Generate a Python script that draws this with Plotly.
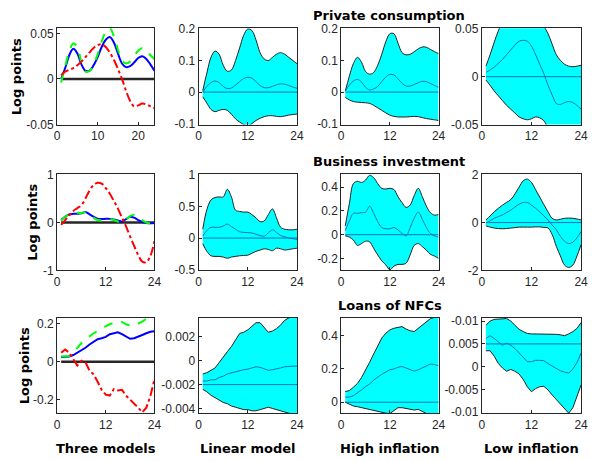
import plotly.graph_objects as go

# ---------------- data ----------------
H = list(range(1, 25))

col_titles = ["Three models", "Linear model", "High inflation", "Low inflation"]
row_titles = ["Private consumption", "Business investment", "Loans of NFCs"]
ylabel = "Log points"

# Row 1: Private consumption
pc_three_linear = [0.0, 0.012, 0.026, 0.033, 0.028, 0.016, 0.009, 0.009, 0.015, 0.024, 0.035, 0.043,
                   0.046, 0.040, 0.028, 0.017, 0.013, 0.014, 0.018, 0.023, 0.025, 0.022, 0.016, 0.009]
pc_three_high = [-0.004, 0.014, 0.030, 0.039, 0.035, 0.018, 0.008, 0.009, 0.016, 0.027, 0.041, 0.052,
                 0.056, 0.047, 0.032, 0.020, 0.017, 0.019, 0.025, 0.031, 0.034, 0.031, 0.026, 0.022]
pc_three_low = [0.004, 0.008, 0.010, 0.012, 0.015, 0.019, 0.024, 0.029, 0.034, 0.037, 0.038, 0.035,
                0.029, 0.021, 0.011, 0.000, -0.013, -0.024, -0.030, -0.029, -0.027, -0.028, -0.030, -0.032]

pc_lin_up = [0.005, 0.06, 0.11, 0.13, 0.12, 0.085, 0.066, 0.07, 0.1, 0.14, 0.18, 0.2,
             0.195, 0.165, 0.125, 0.105, 0.1, 0.11, 0.12, 0.125, 0.12, 0.11, 0.1, 0.09]
pc_lin_lo = [-0.015, -0.035, -0.055, -0.062, -0.058, -0.055, -0.058, -0.07, -0.085, -0.095, -0.103, -0.107,
             -0.1, -0.09, -0.083, -0.078, -0.075, -0.075, -0.077, -0.078, -0.076, -0.073, -0.071, -0.07]
pc_lin_med = [0.0, 0.018, 0.03, 0.035, 0.03, 0.018, 0.011, 0.013, 0.022, 0.033, 0.043, 0.047,
              0.044, 0.033, 0.021, 0.014, 0.014, 0.018, 0.023, 0.026, 0.025, 0.021, 0.016, 0.012]

pc_high_up = [0.003, 0.05, 0.09, 0.11, 0.095, 0.065, 0.057, 0.062, 0.085, 0.12, 0.16, 0.185,
              0.185, 0.155, 0.125, 0.118, 0.12, 0.128, 0.137, 0.143, 0.142, 0.135, 0.128, 0.122]
pc_high_lo = [-0.017, -0.025, -0.03, -0.032, -0.033, -0.034, -0.036, -0.042, -0.05, -0.058, -0.066, -0.073,
              -0.077, -0.079, -0.079, -0.079, -0.078, -0.077, -0.078, -0.081, -0.084, -0.086, -0.088, -0.09]
pc_high_med = [0.003, 0.022, 0.035, 0.04, 0.032, 0.015, 0.007, 0.01, 0.018, 0.033, 0.048, 0.056,
               0.054, 0.042, 0.028, 0.019, 0.019, 0.024, 0.03, 0.034, 0.033, 0.027, 0.021, 0.015]

pc_low_up = [0.011, 0.023, 0.036, 0.048, 0.058, 0.068, 0.076, 0.082, 0.085, 0.086, 0.084, 0.079,
             0.072, 0.063, 0.053, 0.045, 0.034, 0.023, 0.017, 0.013, 0.011, 0.0105, 0.011, 0.012]
pc_low_lo = [-0.0035, -0.009, -0.015, -0.02, -0.025, -0.03, -0.034, -0.038, -0.042, -0.044, -0.045, -0.044,
             -0.042, -0.043, -0.046, -0.054, -0.062, -0.068, -0.07, -0.07, -0.07, -0.072, -0.074, -0.075]
pc_low_med = [0.0045, 0.007, 0.01, 0.014, 0.018, 0.023, 0.028, 0.033, 0.037, 0.038, 0.037, 0.032,
              0.023, 0.013, 0.003, -0.009, -0.019, -0.028, -0.029, -0.027, -0.026, -0.027, -0.03, -0.034]

# Row 2: Business investment
bi_three_linear = [0.05, 0.12, 0.17, 0.18, 0.18, 0.19, 0.22, 0.17, 0.12, 0.08, 0.07, 0.075,
                   0.075, 0.06, 0.04, 0.02, 0.07, 0.12, 0.1, 0.05, 0.01, -0.01, -0.015, -0.01]
bi_three_high = [0.04, 0.12, 0.17, 0.19, 0.2, 0.2, 0.21, 0.16, 0.1, 0.05, 0.04, 0.05,
                 0.07, 0.05, 0.02, 0.0, 0.06, 0.13, 0.16, 0.12, 0.05, 0.0, -0.02, -0.02]
bi_three_low = [-0.05, 0.05, 0.15, 0.24, 0.3, 0.36, 0.5, 0.67, 0.78, 0.83, 0.81, 0.72,
                0.6, 0.45, 0.29, 0.1, -0.08, -0.29, -0.49, -0.68, -0.82, -0.83, -0.7, -0.39]

bi_lin_up = [0.14, 0.45, 0.6, 0.64, 0.65, 0.65, 0.77, 0.65, 0.44, 0.42, 0.41, 0.41,
             0.37, 0.32, 0.26, 0.27, 0.37, 0.46, 0.32, 0.17, 0.14, 0.13, 0.13, 0.14]
bi_lin_lo = [-0.09, -0.21, -0.28, -0.29, -0.29, -0.3, -0.32, -0.3, -0.29, -0.28, -0.275, -0.27,
             -0.24, -0.21, -0.19, -0.17, -0.18, -0.2, -0.16, -0.17, -0.19, -0.18, -0.17, -0.16]
bi_lin_med = [0.03, 0.12, 0.17, 0.17, 0.17, 0.19, 0.22, 0.18, 0.14, 0.1, 0.09, 0.085,
              0.08, 0.06, 0.04, 0.03, 0.08, 0.13, 0.09, 0.04, 0.02, 0.0, -0.01, -0.02]

bi_high_up = [0.075, 0.26, 0.43, 0.45, 0.44, 0.46, 0.5, 0.48, 0.43, 0.39, 0.385, 0.39,
              0.38, 0.32, 0.27, 0.23, 0.25, 0.33, 0.39, 0.32, 0.24, 0.185, 0.165, 0.17]
bi_high_lo = [-0.01, -0.02, -0.045, -0.09, -0.075, -0.055, -0.06, -0.115, -0.17, -0.22, -0.255, -0.295,
              -0.265, -0.25, -0.25, -0.24, -0.17, -0.09, -0.075, -0.1, -0.13, -0.165, -0.18, -0.2]
bi_high_med = [0.035, 0.115, 0.18, 0.18, 0.185, 0.19, 0.24, 0.18, 0.11, 0.06, 0.05, 0.05,
               0.06, 0.04, 0.01, -0.01, 0.06, 0.14, 0.19, 0.13, 0.06, 0.01, -0.01, -0.02]

bi_low_up = [0.11, 0.28, 0.45, 0.6, 0.73, 0.85, 0.96, 1.2, 1.48, 1.75, 1.82, 1.68,
             1.38, 1.07, 0.75, 0.45, 0.18, 0.11, 0.14, 0.18, 0.19, 0.18, 0.15, 0.11]
bi_low_lo = [-0.14, -0.19, -0.23, -0.25, -0.26, -0.25, -0.23, -0.21, -0.19, -0.19, -0.19, -0.19,
             -0.18, -0.18, -0.2, -0.23, -0.5, -0.99, -1.4, -1.78, -1.88, -1.78, -1.4, -0.92]
bi_low_med = [-0.02, 0.08, 0.18, 0.25, 0.32, 0.42, 0.52, 0.65, 0.77, 0.84, 0.84, 0.73,
              0.6, 0.45, 0.28, 0.11, -0.1, -0.3, -0.58, -0.78, -0.88, -0.82, -0.64, -0.37]

# Row 3: Loans of NFCs
ln_three_linear = [0.025, 0.025, 0.027, 0.035, 0.047, 0.06, 0.073, 0.09, 0.106, 0.118, 0.123, 0.13,
                   0.144, 0.15, 0.154, 0.144, 0.132, 0.12, 0.123, 0.13, 0.14, 0.149, 0.157, 0.16]
ln_three_high = [0.027, 0.027, 0.03, 0.047, 0.073, 0.098, 0.115, 0.132, 0.149, 0.16, 0.174, 0.186,
                 0.196, 0.204, 0.21, 0.208, 0.196, 0.19, 0.19, 0.2, 0.21, 0.225, 0.228, 0.225]
ln_three_low = [0.047, 0.064, 0.047, 0.014, -0.02, 0.005, -0.003, -0.046, -0.066, -0.105, -0.147, -0.172,
                -0.177, -0.143, -0.15, -0.147, -0.177, -0.198, -0.218, -0.24, -0.265, -0.24, -0.18, -0.093]

ln_lin_up = [-0.0011, -0.001, -0.0008, -0.0006, -0.00015, 0.00035, 0.00077, 0.0012, 0.0017, 0.0023, 0.0024, 0.0026,
             0.0029, 0.0032, 0.0032, 0.0028, 0.0024, 0.0025, 0.0027, 0.003, 0.0034, 0.0036, 0.0037, 0.0037]
ln_lin_lo = [-0.0024, -0.0026, -0.0029, -0.0031, -0.0033, -0.0035, -0.0036, -0.0038, -0.0039, -0.004, -0.0041, -0.0041,
             -0.0042, -0.0042, -0.0041, -0.004, -0.0039, -0.004, -0.0041, -0.0042, -0.0043, -0.0044, -0.0045, -0.0045]
ln_lin_med = [-0.0017, -0.0017, -0.0016, -0.0016, -0.0014, -0.0013, -0.0011, -0.001, -0.00095, -0.0008, -0.00075, -0.0007,
              -0.0006, -0.0005, -0.00055, -0.0007, -0.0008, -0.00075, -0.0007, -0.0006, -0.0005, -0.00045, -0.00045, -0.00045]

ln_high_up = [0.064, 0.07, 0.09, 0.113, 0.148, 0.19, 0.24, 0.29, 0.343, 0.386, 0.415, 0.435,
              0.445, 0.45, 0.455, 0.44, 0.43, 0.425, 0.445, 0.468, 0.488, 0.503, 0.51, 0.51]
ln_high_lo = [0.0, -0.014, -0.023, -0.027, -0.033, -0.037, -0.043, -0.047, -0.053, -0.059, -0.066, -0.068,
              -0.053, -0.033, -0.033, -0.039, -0.043, -0.047, -0.043, -0.053, -0.068, -0.07, -0.07, -0.07]
ln_high_med = [0.031, 0.031, 0.039, 0.055, 0.074, 0.094, 0.109, 0.133, 0.152, 0.168, 0.182, 0.195,
               0.2, 0.21, 0.215, 0.207, 0.195, 0.187, 0.195, 0.207, 0.22, 0.23, 0.226, 0.22]

ln_low_up = [0.0091, 0.01, 0.0104, 0.0104, 0.0105, 0.0106, 0.01, 0.0091, 0.0082, 0.0077, 0.0073, 0.0072,
             0.0072, 0.0072, 0.0072, 0.0071, 0.0071, 0.0071, 0.007, 0.0068, 0.0072, 0.0077, 0.0084, 0.0097]
ln_low_lo = [0.0035, 0.0035, 0.0023, 0.0007, -0.0003, -0.001, -0.0006, -0.001, -0.0016, -0.0028, -0.0044, -0.0055,
             -0.0048, -0.0044, -0.0043, -0.0051, -0.0062, -0.0072, -0.0083, -0.0092, -0.0102, -0.009, -0.0065, -0.004]
ln_low_med = [0.0062, 0.0068, 0.0062, 0.0054, 0.0047, 0.0052, 0.0047, 0.004, 0.003, 0.0021, 0.0011, 0.0011,
              0.0014, 0.0014, 0.0013, 0.0007, 0.0002, -0.0003, -0.0009, -0.0012, -0.0014, -0.0005, 0.0009, 0.003]

# reference (horizontal) levels drawn in each band panel
ref_levels = {"pc": [0.0, 0.0, 0.0], "bi": [0.0, 0.0, 0.0], "ln": [-0.002, 0.0, 0.005]}

# tick values and labels
xticks_first = [0, 10, 20]
xticks_other = [0, 12, 24]
yticks = [
    [[-0.05, 0, 0.05], [-0.1, 0, 0.1, 0.2], [-0.1, 0, 0.1, 0.2], [-0.05, 0, 0.05]],
    [[-1, 0, 1], [-0.5, 0, 0.5, 1], [-0.2, 0, 0.2, 0.4], [-2, 0, 2]],
    [[-0.2, 0, 0.2], [-0.004, -0.002, 0, 0.002], [0, 0.2, 0.4], [-0.01, -0.005, 0, 0.005, 0.01]],
]
ytick_labels = [
    [["-0.05", "0", "0.05"], ["-0.1", "0", "0.1", "0.2"], ["-0.1", "0", "0.1", "0.2"], ["-0.05", "0", "0.05"]],
    [["-1", "0", "1"], ["-0.5", "0", "0.5", "1"], ["-0.2", "0", "0.2", "0.4"], ["-2", "0", "2"]],
    [["-0.2", "0", "0.2"], ["-0.004", "-0.002", "0", "0.002"], ["0", "0.2", "0.4"],
     ["-0.01", "-0.005", "0", "0.005", "-0.01"]],
]
yranges = [
    [[-0.05, 0.0555], [-0.103, 0.202], [-0.103, 0.202], [-0.05, 0.0505]],
    [[-1.0, 1.01], [-0.51, 1.01], [-0.3, 0.51], [-2.0, 2.03]],
    [[-0.269, 0.229], [-0.0044, 0.0036], [-0.066, 0.507], [-0.0102, 0.0107]],
]

# ---------------- layout helpers ----------------
W, HT = 595, 461
cols_px = [(55, 154), (199, 299), (344, 443), (487, 588)]
rows_px = [(23, 122), (173, 272), (321, 419)]

AX = "#262626"
FONT = "Liberation Sans, Arial, sans-serif"
BOLD_FONT = "DejaVu Sans, Verdana, sans-serif"
CYAN = "#00FFFF"
MED = "#0072BD"

fig = go.Figure()

three = [
    (pc_three_linear, pc_three_high, pc_three_low),
    (bi_three_linear, bi_three_high, bi_three_low),
    (ln_three_linear, ln_three_high, ln_three_low),
]
bands = [
    [(pc_lin_lo, pc_lin_up, pc_lin_med), (pc_high_lo, pc_high_up, pc_high_med), (pc_low_lo, pc_low_up, pc_low_med)],
    [(bi_lin_lo, bi_lin_up, bi_lin_med), (bi_high_lo, bi_high_up, bi_high_med), (bi_low_lo, bi_low_up, bi_low_med)],
    [(ln_lin_lo, ln_lin_up, ln_lin_med), (ln_high_lo, ln_high_up, ln_high_med), (ln_low_lo, ln_low_up, ln_low_med)],
]
refs = [ref_levels["pc"], ref_levels["bi"], ref_levels["ln"]]
shapes_by_row = ["spline", "spline", "linear"]

for r in range(3):
    shp = shapes_by_row[r]
    for c in range(4):
        k = r * 4 + c + 1
        xa = "x" if k == 1 else f"x{k}"
        ya = "y" if k == 1 else f"y{k}"
        if c == 0:
            lin, hi, lo = three[r]
            fig.add_trace(go.Scatter(x=H, y=[0] * len(H), mode="lines", xaxis=xa, yaxis=ya,
                                     line=dict(color=AX, width=2.5), showlegend=False, hoverinfo="skip"))
            fig.add_trace(go.Scatter(x=H, y=lin, mode="lines", xaxis=xa, yaxis=ya,
                                     line=dict(color="#0000FF", width=2, shape=shp), showlegend=False))
            fig.add_trace(go.Scatter(x=H, y=hi, mode="lines", xaxis=xa, yaxis=ya,
                                     line=dict(color="#00FF00", width=2, dash="dash", shape=shp), showlegend=False))
            fig.add_trace(go.Scatter(x=H, y=lo, mode="lines", xaxis=xa, yaxis=ya,
                                     line=dict(color="#FF0000", width=2, dash="dashdot", shape=shp), showlegend=False))
        else:
            lo_b, up_b, med = bands[r][c - 1]
            ref = refs[r][c - 1]
            fig.add_trace(go.Scatter(x=H, y=lo_b, mode="lines", xaxis=xa, yaxis=ya,
                                     line=dict(color="#222222", width=1, shape=shp), showlegend=False))
            fig.add_trace(go.Scatter(x=H, y=up_b, mode="lines", xaxis=xa, yaxis=ya, fill="tonexty",
                                     fillcolor=CYAN, line=dict(color="#222222", width=1, shape=shp),
                                     showlegend=False))
            fig.add_trace(go.Scatter(x=H, y=med, mode="lines", xaxis=xa, yaxis=ya,
                                     line=dict(color=MED, width=1, shape=shp), showlegend=False))
            fig.add_trace(go.Scatter(x=H, y=[ref] * len(H), mode="lines", xaxis=xa, yaxis=ya,
                                     line=dict(color=MED, width=1), showlegend=False))

        x0, x1 = cols_px[c]
        y0, y1 = rows_px[r]
        xt = xticks_first if (r == 0 and c == 0) else xticks_other
        common = dict(showline=True, mirror=True, linecolor=AX, linewidth=1, ticks="inside",
                      ticklen=3, tickcolor=AX, showgrid=False, zeroline=False,
                      tickfont=dict(family=FONT, size=12, color=AX))
        fig.layout[f"xaxis{'' if k == 1 else k}"] = dict(
            domain=[x0 / W, x1 / W], anchor=ya, range=[0, 24], tickvals=xt,
            ticktext=[str(v) for v in xt], **common)
        fig.layout[f"yaxis{'' if k == 1 else k}"] = dict(
            domain=[1 - y1 / HT, 1 - y0 / HT], anchor=xa, range=yranges[r][c],
            tickvals=yticks[r][c], ticktext=ytick_labels[r][c], **common)

ann = []
title_pos = [(393, 10), (393, 160), (394, 308)]
for t, (px, py) in zip(row_titles, title_pos):
    ann.append(dict(text=f"<b>{t}</b>", x=px / W, y=1 - py / HT, xref="paper", yref="paper",
                    showarrow=False, xanchor="center", yanchor="middle", borderpad=0,
                    font=dict(family=BOLD_FONT, size=13, color="#000000")))
for t, (x0, x1) in zip(col_titles, cols_px):
    ann.append(dict(text=f"<b>{t}</b>", x=(x0 + x1) / 2 / W, y=1 - 455 / HT, xref="paper", yref="paper",
                    showarrow=False, xanchor="center", yanchor="middle", borderpad=0,
                    font=dict(family=BOLD_FONT, size=13, color="#000000")))
ylab_x = [14, 30, 22]
for (y0, y1), lx in zip(rows_px, ylab_x):
    ann.append(dict(text=f"<b>{ylabel}</b>", x=lx / W, y=1 - (y0 + y1) / 2 / HT, xref="paper", yref="paper",
                    showarrow=False, xanchor="center", yanchor="middle", textangle=-90, borderpad=0,
                    font=dict(family=BOLD_FONT, size=13, color="#000000")))

fig.update_layout(width=W, height=HT, autosize=False, margin=dict(l=0, r=0, t=0, b=0),
                  paper_bgcolor="white", plot_bgcolor="white", annotations=ann, showlegend=False)

fig.write_html("out.html", config={"displayModeBar": False},
               post_script="document.body.style.margin='0px';"
                           "document.documentElement.style.overflow='hidden';"
                           "document.body.style.overflow='hidden';")
